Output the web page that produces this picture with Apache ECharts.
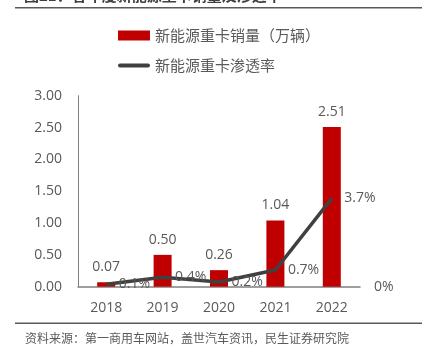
<!DOCTYPE html>
<html>
<head>
<meta charset="utf-8">
<script src="https://cdn.jsdelivr.net/npm/echarts@6/dist/echarts.min.js"></script>
<style>
  html, body { margin: 0; padding: 0; background: #fff; }
  #chart { width: 435px; height: 354px; }
</style>
</head>
<body>
<div id="chart"></div>
<script>
// 年份
var years = ['2018', '2019', '2020', '2021', '2022']
// 新能源重卡销量（万辆）
var sales = [0.07, 0.50, 0.26, 1.04, 2.51]
// 渗透率（%）
var penetration = [0.1, 0.4, 0.2, 0.7, 3.7]

var textColor = '#595959'
var fontFamily = '"Open Sans", "Noto Sans CJK SC", sans-serif'

var myChart = echarts.init(document.getElementById('chart'))
var option = {
  animation: false,
  textStyle: { fontFamily: fontFamily, color: textColor },
  graphic: [
    // 标题（被裁切）
    {
      type: 'text', left: 24, top: -12,
      style: { text: '图21：各年度新能源重卡销量及渗透率', fontSize: 15, fontWeight: 'bold', fill: '#404040', fontFamily: '"Noto Sans CJK SC", sans-serif' }
    },
    { type: 'rect', shape: { x: 15, y: 7, width: 407, height: 1.5 }, style: { fill: '#595959' } },
    { type: 'rect', shape: { x: 15, y: 322.5, width: 407, height: 1.5 }, style: { fill: '#595959' } },
    {
      type: 'text', left: 25, top: 332,
      style: { text: '资料来源：第一商用车网站，盖世汽车资讯，民生证券研究院', fontSize: 12, fill: '#595959', fontFamily: '"Noto Sans CJK SC", sans-serif' }
    }
  ],
  legend: {
    orient: 'vertical',
    left: 113,
    top: 23,
    itemWidth: 32,
    itemHeight: 10,
    itemGap: 15,
    symbolKeepAspect: true,
    textStyle: { fontSize: 15, color: textColor, fontFamily: '"Noto Sans CJK SC", sans-serif' },
    data: [
      { name: '新能源重卡销量（万辆）', icon: 'path://M0,0h32v10h-32z' },
      { name: '新能源重卡渗透率', icon: 'path://M2,0h28a2,2 0 0 1 0,4h-28a2,2 0 0 1 0,-4z' }
    ]
  },
  grid: { left: 78, right: 75, top: 95.7, bottom: 67.3 },
  xAxis: {
    type: 'category',
    data: years,
    axisTick: { show: false },
    axisLine: { lineStyle: { color: '#7f7f7f', width: 1.5 } },
    axisLabel: { fontSize: 14, color: textColor, margin: 14 }
  },
  yAxis: [
    {
      type: 'value',
      min: 0,
      max: 3,
      interval: 0.5,
      splitLine: { show: false },
      axisLine: { show: true, lineStyle: { color: '#7f7f7f', width: 1 } },
      axisLabel: {
        fontSize: 14, color: textColor, margin: 16,
        formatter: function (v) { return v.toFixed(2) }
      }
    },
    {
      type: 'value',
      min: 0,
      max: 8,
      interval: 8,
      splitLine: { show: false },
      axisLine: { show: false },
      axisTick: { show: false },
      axisLabel: {
        fontSize: 14, color: textColor, margin: 14, showMaxLabel: false,
        formatter: function (v) { return v === 0 ? '0%' : '' }
      }
    }
  ],
  series: [
    {
      name: '新能源重卡销量（万辆）',
      type: 'bar',
      data: sales,
      barWidth: 18,
      itemStyle: { color: '#C00000' },
      label: {
        show: true, position: 'top', distance: 8, fontSize: 14, color: textColor,
        formatter: function (p) { return p.value.toFixed(2) }
      }
    },
    {
      name: '新能源重卡渗透率',
      type: 'line',
      yAxisIndex: 1,
      data: penetration,
      symbol: 'circle',
      symbolSize: 1,
      showSymbol: true,
      lineStyle: { color: '#404040', width: 3.5 },
      itemStyle: { color: '#404040' },
      label: {
        show: true, position: 'right', distance: 12, fontSize: 14, color: textColor,
        formatter: function (p) { return p.value.toFixed(1) + '%' }
      }
    }
  ]
}
myChart.setOption(option)
</script>
</body>
</html>
